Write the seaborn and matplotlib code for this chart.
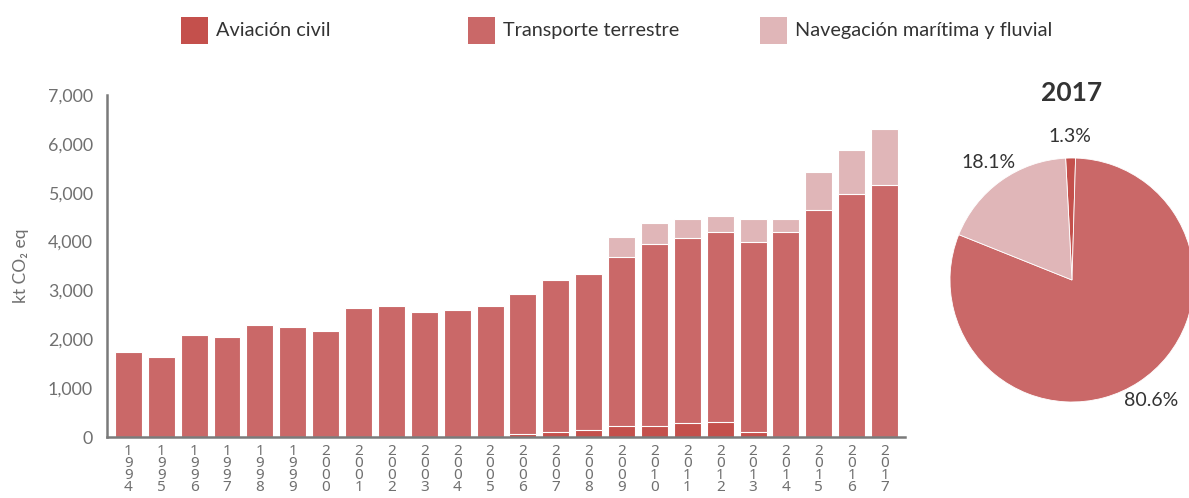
import matplotlib
matplotlib.use("Agg")
import matplotlib.pyplot as plt
import matplotlib.patches as mpatches
import seaborn as sns
import numpy as np
import pandas as pd

# ---------------- data ----------------
years = [str(y) for y in range(1994, 2018)]
aviacion = [0, 0, 0, 0, 0, 0, 0, 0, 0, 0, 0, 0,
            60, 95, 145, 230, 230, 285, 315, 95, 0, 0, 0, 0]
transporte = [1735, 1645, 2080, 2040, 2290, 2255, 2160, 2650, 2690, 2560, 2600, 2690,
              2860, 3115, 3195, 3450, 3720, 3785, 3875, 3895, 4190, 4640, 4970, 5150]
navegacion = [0, 0, 0, 0, 0, 0, 0, 0, 0, 0, 0, 0,
              0, 0, 0, 410, 430, 390, 330, 470, 270, 780, 900, 1150]
series_names = ["Aviación civil", "Transporte terrestre", "Navegación marítima y fluvial"]
pie_year = "2017"
pie_values = [1.3, 80.6, 18.1]  # aviación, transporte, navegación
y_ticks = [0, 1000, 2000, 3000, 4000, 5000, 6000, 7000]
y_label = "kt CO₂ eq"

# ---------------- style ----------------
sns.set_style("white")
FONT = ["Lato", "DejaVu Sans"]
plt.rcParams["font.family"] = FONT
colors = ["#c4504c", "#ca6868", "#e0b6b8"]
TICK_COL = "#707070"
TEXT_COL = "#333333"

W, H = 1189, 498
fig = plt.figure(figsize=(W / 100, H / 100), dpi=100)

# bar axes
ax = fig.add_axes([107 / W, (H - 437) / H, (905 - 107) / W, (437 - 95) / H])

df = pd.DataFrame({"year": years, "av": aviacion, "tr": transporte, "nav": navegacion})
df["c1"] = df["av"]
df["c2"] = df["av"] + df["tr"]
df["c3"] = df["c2"] + df["nav"]

bw = 0.82
for col, c in [("c3", colors[2]), ("c2", colors[1]), ("c1", colors[0])]:
    sns.barplot(data=df, x="year", y=col, color=c, saturation=1, width=bw,
                edgecolor="white", linewidth=0.8, ax=ax, order=years)

ax.set_xlim(-0.65, 23.62)
ax.set_ylim(0, 7000)
ax.set_yticks(y_ticks)
ax.set_yticklabels([f"{v:,}" for v in y_ticks])
ax.set_xticks(range(len(years)))
ax.set_xticklabels(["\n".join(list(y)) for y in years], linespacing=0.72,
                   family=["Noto Sans", "DejaVu Sans"])
ax.set_xlabel("")
ax.set_ylabel(y_label, fontsize=12.5, color=TICK_COL, labelpad=14, family=FONT)
ax.tick_params(axis="y", direction="in", length=4, width=1.2, color=TICK_COL,
               labelsize=12.8, labelcolor=TICK_COL, pad=10)
ax.tick_params(axis="x", length=0, labelsize=11, labelcolor=TICK_COL, pad=5)
for s in ["top", "right"]:
    ax.spines[s].set_visible(False)
for s in ["left", "bottom"]:
    ax.spines[s].set_color("#7a7a7a")
    ax.spines[s].set_linewidth(1.8)

# pie axes
R = 122
cx, cy = 1072, H - 280
pax = fig.add_axes([(cx - R) / W, (cy - R) / H, 2 * R / W, 2 * R / H])
wedges, texts, autotexts = pax.pie(
    pie_values, colors=colors, startangle=93, counterclock=False,
    autopct="%.1f%%", pctdistance=1.18,
    wedgeprops=dict(edgecolor="white", linewidth=0.6),
    textprops=dict(fontsize=14, color=TEXT_COL))
pax.set_xlim(-1, 1)
pax.set_ylim(-1, 1)
pax.set_aspect("equal")
pax.axis("off")
for w in wedges:
    w.set_clip_on(False)
fig.text(cx / W, (H - 93) / H, pie_year, ha="center", va="center",
         fontsize=19, fontweight="bold", color=TEXT_COL)

# legend (three items placed individually)
starts = [181, 468, 760]
for name, c, x0 in zip(series_names, colors, starts):
    fig.patches.append(mpatches.Rectangle((x0 / W, (H - 44) / H), 27 / W, 27 / H,
                                          transform=fig.transFigure, facecolor=c,
                                          edgecolor="none"))
    fig.text((x0 + 35) / W, (H - 30.5) / H, name, ha="left", va="center",
             fontsize=14.3, color=TEXT_COL)

fig.savefig("out.png", dpi=100)
